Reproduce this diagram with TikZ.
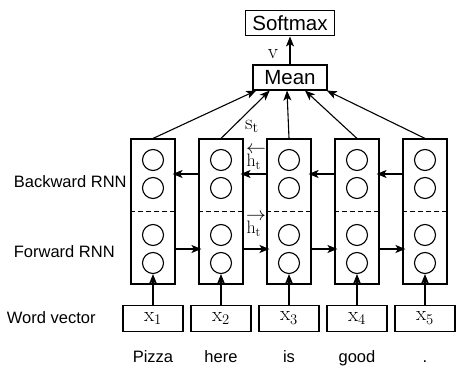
\documentclass[tikz,border=0pt]{standalone}
\usepackage{fontspec}
\setsansfont{Liberation Sans}
\usetikzlibrary{positioning,arrows.meta,calc}
\newcommand{\vecht}[1]{\leavevmode\rlap{\hspace{-0.5pt}\raisebox{13pt}{\scalebox{1.15}[1.1]{$#1$}}}h\textsubscript{t}}

\begin{document}
\begin{tikzpicture}[x=1pt, y=-1pt, font=\sffamily, line width=1.1pt,
	box/.style={draw, inner sep=0pt, minimum height=25pt, font=\fontsize{20.5}{22}\sffamily},
	col/.style={draw, minimum width=44pt, minimum height=145pt, inner sep=0pt},
	unit/.style={draw, circle, minimum size=21pt, inner sep=0pt},
	word/.style={draw, minimum width=60pt, minimum height=26pt, inner sep=0pt},
	lbl/.style={font=\fontsize{16.5}{18}\sffamily},
	sym/.style={font=\fontsize{21}{23}\rmfamily, inner sep=0pt},
	hlbl/.style={font=\fontsize{18}{20}\rmfamily, inner sep=0pt, anchor=base west},
	conn/.style={-{Stealth[length=10pt,width=8pt,inset=2.5pt]}}]
		\useasboundingbox (0,0) rectangle (456,366);
		% output part
		\node[box, minimum width=74pt] (mean) at (290,77.5) {Mean};
		\node[box, minimum width=89pt, above=28pt of mean] (softmax) {Softmax};
		\draw[conn] (mean) -- (softmax);
		\node[sym] (v) at (273,54) {v};
		% the five time steps
		\foreach \i/\x/\w in {1/153/Pizza, 2/221/here, 3/289/is, 4/357/good, 5/425/.} {
			\node[col] (col\i) at (\x,211.5) {};
			\node[unit] (bu\i) at (\x,160) {};
			\node[unit] (bl\i) at (\x,188) {};
			\node[unit] (fu\i) at (\x,235) {};
			\node[unit] (fl\i) at (\x,263) {};
			\draw[dashed, dash pattern=on 5pt off 3pt, line width=0.9pt] (col\i.west) -- (col\i.east);
			\coordinate (bk\i) at ($(bu\i)!0.5!(bl\i)$);
			\coordinate (fw\i) at ($(fu\i)!0.5!(fl\i)$);
			\node[word, below=20pt of col\i, font=\fontsize{21}{23}\rmfamily] (w\i) {x\textsubscript{\i}};
			\node[lbl, text height=12pt, text depth=3pt, below=14.5pt of w\i] (t\i) {\w};
			\draw[conn] (w\i) -- (fl\i);
		}
		% recurrent links
		\foreach \i/\j in {1/2, 2/3, 3/4, 4/5} {
			\draw[conn, shorten >=-3pt] (col\j.west |- bk\j) -- (col\i.east |- bk\i);
			\draw[conn, shorten >=-3pt] (col\i.east |- fw\i) -- (col\j.west |- fw\j);
		}
		% into the mean
		\draw[conn] (col1.north) -- ($(mean.south west)!0.05!(mean.south east)$);
		\draw[conn] (col2.north) -- ($(mean.south west)!0.23!(mean.south east)$);
		\draw[conn] (col3.north) -- ($(mean.south west)!0.46!(mean.south east)$);
		\draw[conn] (col4.north) -- ($(mean.south west)!0.70!(mean.south east)$);
		\draw[conn] (col5.north) -- ($(mean.south west)!0.99!(mean.south east)$);
		\node[sym] (st) at (252,126) {s\textsubscript{t}};
		\node[hlbl] (hb) at (246,166.5) {\vecht{\leftarrow}};
		\node[hlbl] (hf) at (246,234) {\vecht{\rightarrow}};
		% row labels
		\node[lbl, anchor=west] (back) at (10,182) {Backward RNN};
		\node[lbl, anchor=west] (fwd) at (10,252) {Forward RNN};
		\node[lbl, left=23pt of w1] (wv) {Word vector};
	\end{tikzpicture}
\end{document}
